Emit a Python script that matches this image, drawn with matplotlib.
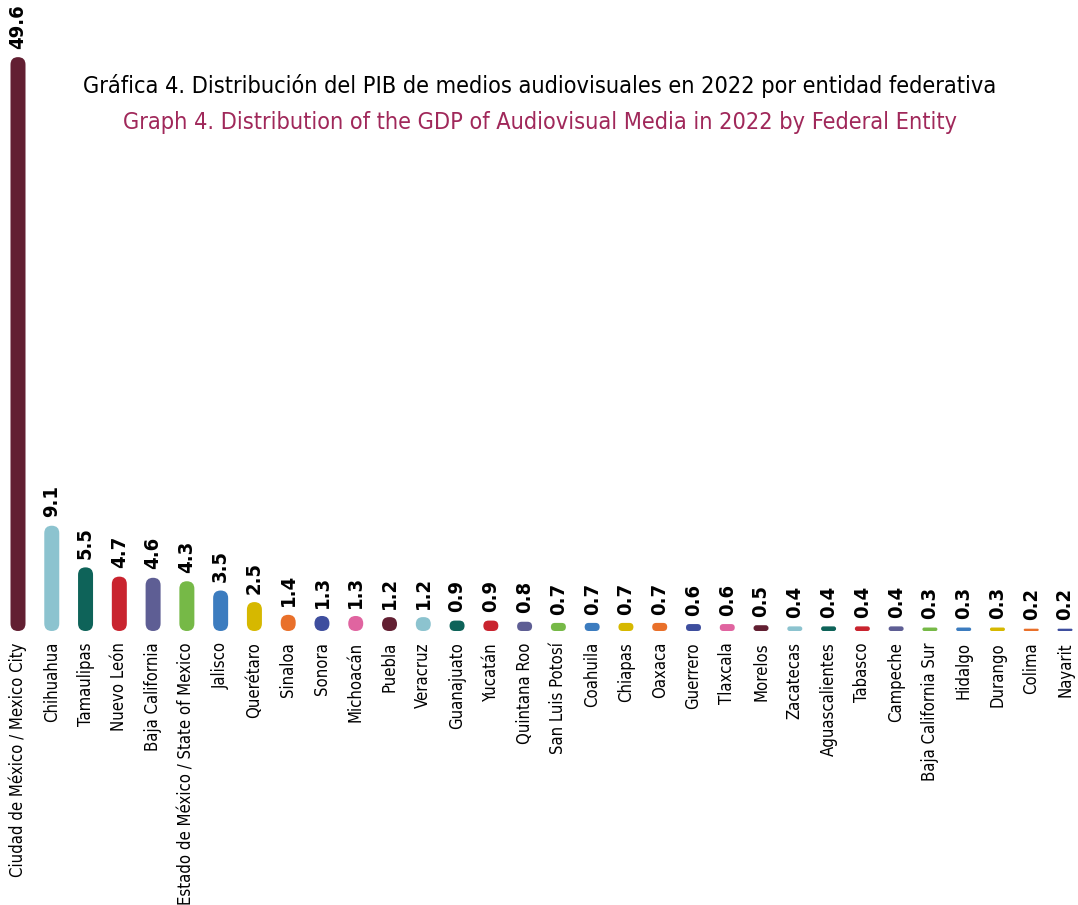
import matplotlib
matplotlib.use("Agg")
import matplotlib.pyplot as plt
from matplotlib.patches import FancyBboxPatch

states = ["Ciudad de México / Mexico City", "Chihuahua", "Tamaulipas", "Nuevo León",
          "Baja California", "Estado de México / State of Mexico", "Jalisco", "Querétaro",
          "Sinaloa", "Sonora", "Michoacán", "Puebla", "Veracruz", "Guanajuato", "Yucatán",
          "Quintana Roo", "San Luis Potosí", "Coahuila", "Chiapas", "Oaxaca", "Guerrero",
          "Tlaxcala", "Morelos", "Zacatecas", "Aguascalientes", "Tabasco", "Campeche",
          "Baja California Sur", "Hidalgo", "Durango", "Colima", "Nayarit"]
shares = [49.6, 9.1, 5.5, 4.7, 4.6, 4.3, 3.5, 2.5, 1.4, 1.3, 1.3, 1.2, 1.2, 0.9, 0.9,
          0.8, 0.7, 0.7, 0.7, 0.7, 0.6, 0.6, 0.5, 0.4, 0.4, 0.4, 0.4, 0.3, 0.3, 0.3,
          0.2, 0.2]
palette = ["#621F32", "#8CC3CF", "#0E6359", "#C9242F", "#5E5E94", "#76B947",
           "#3C7CBF", "#D6B800", "#E9702A", "#3E4E9E", "#E064A0"]

W, H = 1078, 905
fig = plt.figure(figsize=(W / 100, H / 100), dpi=100)

# axes placed by pixel: bar 0 at x=18, bar 31 at x=1065, baseline at y=631
base_px = 631
top_px = 20
px_per_unit = 11.57
ax = fig.add_axes([0, (H - base_px) / H, 1, (base_px - top_px) / H])
x_per_px = 31 / 1047
ax.set_xlim(-18 * x_per_px, 31 + 13 * x_per_px)
ax.set_ylim(0, (base_px - top_px) / px_per_unit)

bar_w = 15 * x_per_px
# y units per x unit on screen, for round corners
aspect = (1 / px_per_unit) / x_per_px

cond = dict(family="DejaVu Sans", stretch="condensed")

for i, (name, v) in enumerate(zip(states, shares)):
    c = palette[i % len(palette)]
    r = min(bar_w / 2, v / aspect / 2)
    p = FancyBboxPatch((i - bar_w / 2, 0), bar_w, v,
                       boxstyle="round,pad=0,rounding_size={}".format(r),
                       mutation_aspect=aspect, facecolor=c, edgecolor="none")
    ax.add_patch(p)
    ax.annotate("{:.1f}".format(v), (i, v), xytext=(0, 6), textcoords="offset points",
                rotation=90, ha="center", va="bottom", fontsize=14.5,
                fontweight="bold", **cond)

ax.set_xticks(range(len(states)))
ax.set_xticklabels(states, rotation=90, fontsize=12, va="top", ha="center", **cond)
ax.tick_params(axis="x", length=0, pad=8)
ax.set_yticks([])
for s in ax.spines.values():
    s.set_visible(False)

fig.text(540 / W, 1 - 86 / H,
         "Gráfica 4. Distribución del PIB de medios audiovisuales en 2022 por entidad federativa",
         ha="center", va="center", fontsize=16.8, color="black", **cond)
fig.text(540 / W, 1 - 122 / H,
         "Graph 4. Distribution of the GDP of Audiovisual Media in 2022 by Federal Entity",
         ha="center", va="center", fontsize=16.8, color="#A0285A", **cond)

fig.savefig("out.png", dpi=100)
